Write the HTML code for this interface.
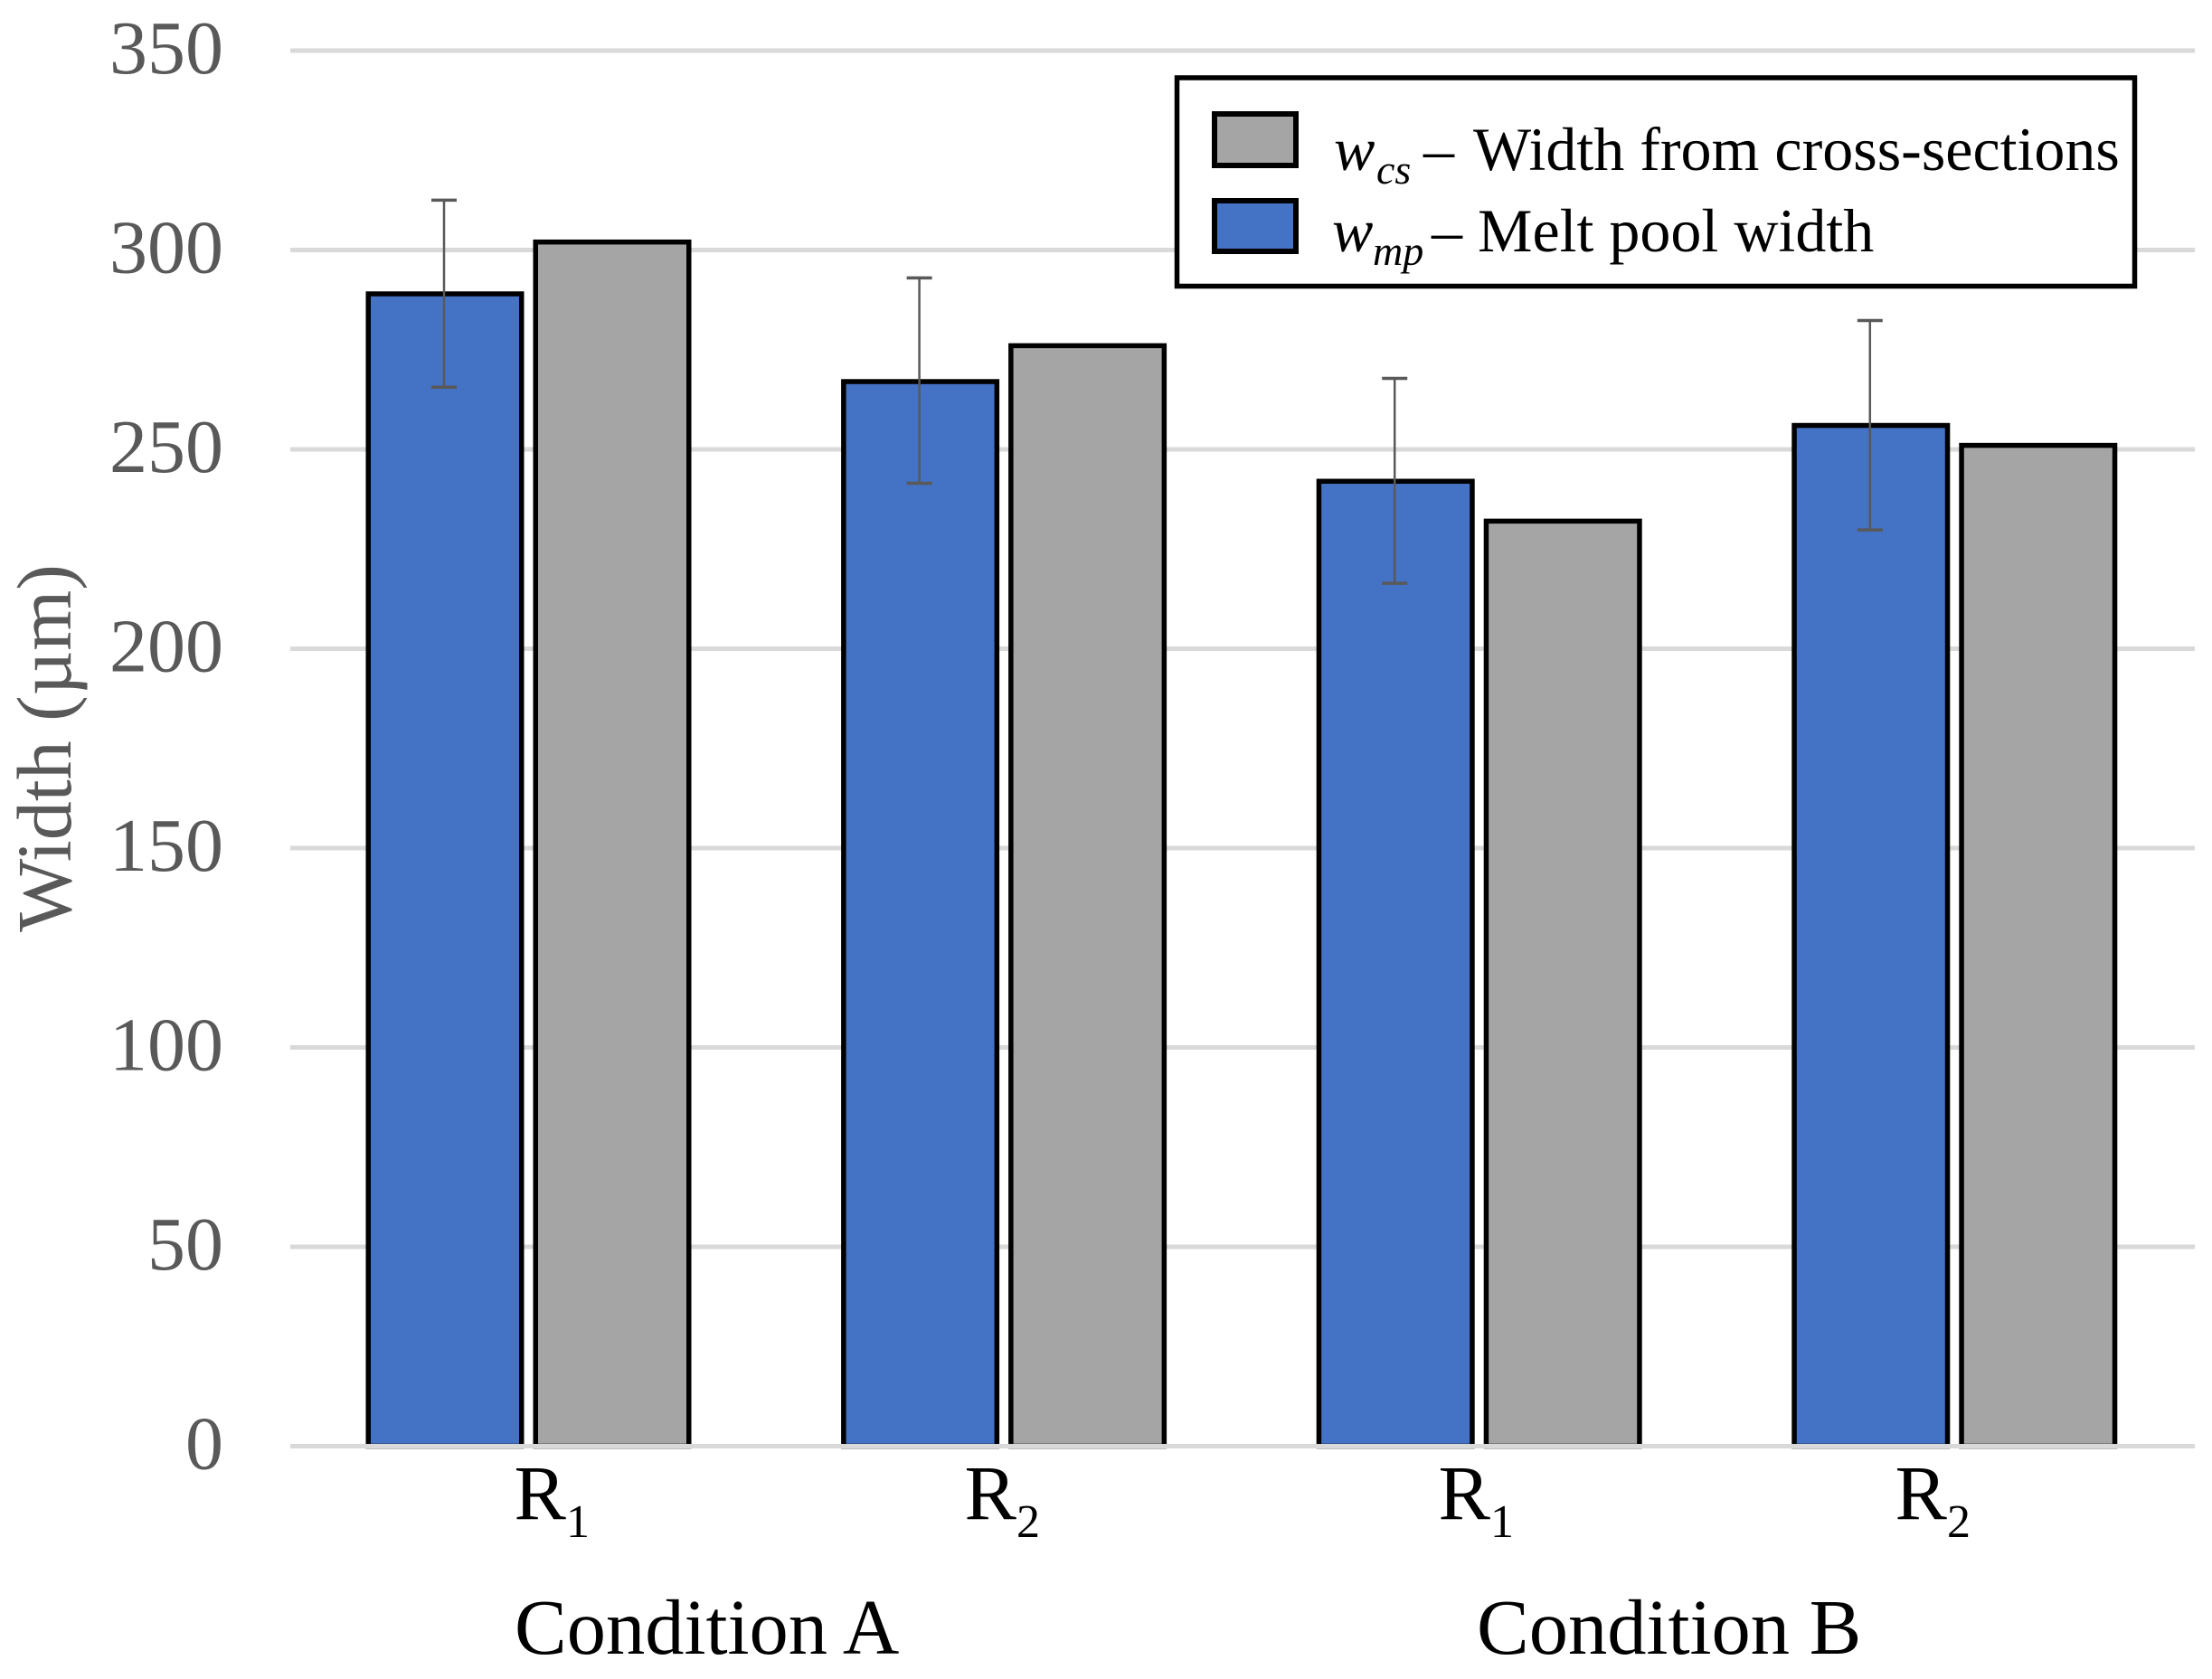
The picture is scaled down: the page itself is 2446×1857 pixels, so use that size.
<!DOCTYPE html>
<html lang="en">
<head>
<meta charset="utf-8">
<title>Width by condition</title>
<style>
html,body{margin:0;padding:0;background:#fff;width:2446px;height:1857px;overflow:hidden}
svg{display:block}
text{font-family:"Liberation Serif","Times New Roman",serif}
</style>
</head>
<body>
<svg id="chart" xmlns="http://www.w3.org/2000/svg" width="2446" height="1857" viewBox="0 0 2446 1857">
  <rect x="0" y="0" width="2446" height="1857" fill="#ffffff"/>
  <g id="grid"></g>
  <g id="ticks"></g>
  <text transform="translate(78 827.5) rotate(-90)" text-anchor="middle" font-size="86" fill="#595959">Width (µm)</text>
  <g id="bars"></g>
  <g id="errors"></g>
  <g id="axis"></g>

  <g fill="#000000">
    <text x="568.5" y="1680" font-size="86">R</text>
    <text x="626" y="1700" font-size="52">1</text>
    <text x="1066.5" y="1680" font-size="86">R</text>
    <text x="1124" y="1700" font-size="52">2</text>
    <text x="1590.5" y="1680" font-size="86">R</text>
    <text x="1648" y="1700" font-size="52">1</text>
    <text x="2095.5" y="1680" font-size="86">R</text>
    <text x="2153" y="1700" font-size="52">2</text>
  </g>
  <text x="569" y="1829" font-size="86.5" fill="#000000">Condition A</text>
  <text x="1633" y="1829" font-size="86.5" fill="#000000">Condition B</text>

  <g>
    <rect x="1301.5" y="86" width="1059" height="230.5" fill="#ffffff" stroke="#000000" stroke-width="5.5"/>
    <rect x="1343" y="126" width="90" height="57" fill="#a5a5a5" stroke="#000000" stroke-width="6"/>
    <rect x="1343" y="222" width="90" height="56" fill="#4472c4" stroke="#000000" stroke-width="6"/>
    <g fill="#000000">
      <text x="1475" y="188" font-size="68" font-style="italic">w</text>
      <text x="1522" y="203" font-size="46" font-style="italic">cs</text>
      <text x="1574" y="188" font-size="68">–</text>
      <text x="1629" y="188" font-size="68">Width from cross-sections</text>
    </g>
    <g fill="#000000">
      <text x="1473" y="278" font-size="68" font-style="italic">w</text>
      <text x="1518" y="293" font-size="46" font-style="italic">mp</text>
      <text x="1583" y="278" font-size="68">– Melt pool width</text>
    </g>
  </g>
</svg>
<script>
const categories = ["A-R1", "A-R2", "B-R1", "B-R2"];
const meltPoolWidth = [289, 267, 242, 256];
const crossSectionWidth = [302, 276, 232, 251];
const errorUpper = [312.5, 293, 267.8, 282.3];
const errorLower = [265.6, 241.5, 216.4, 229.8];
const yTickValues = [0, 50, 100, 150, 200, 250, 300, 350];

const SVG_NS = 'http://www.w3.org/2000/svg';
const yZero = 1599.5;
const yPerUnit = 4.41;
const groupStart = 404.5;
const groupStep = 525.6;
const barOuterWidth = 175;
const seriesOffset = 185;
const borderWidth = 5.5;

function yScale(v) { return yZero - v * yPerUnit; }
function barLeft(groupIndex, seriesIndex) { return groupStart + groupIndex * groupStep + seriesIndex * seriesOffset; }
function make(tag, attrs, parentId) {
  const el = document.createElementNS(SVG_NS, tag);
  Object.keys(attrs).forEach(k => el.setAttribute(k, attrs[k]));
  document.getElementById(parentId).appendChild(el);
  return el;
}

yTickValues.forEach(t => {
  if (t !== 0) {
    const line = make('rect', {x: 321, y: yScale(t) - 2.5, width: 2106, height: 5, fill: '#d9d9d9'}, 'grid');
    
    
  }
  const label = make('text', {x: 247, y: yScale(t) + 25, 'text-anchor': 'end', 'font-size': 84, fill: '#595959'}, 'ticks');
  label.textContent = String(t);
  
  
});

function drawBar(groupIndex, seriesIndex, value, fill, name) {
  const left = barLeft(groupIndex, seriesIndex);
  const bar = make('rect', {
    x: left + borderWidth / 2,
    y: yScale(value),
    width: barOuterWidth - borderWidth,
    height: yZero - yScale(value),
    fill: fill,
    stroke: '#000000',
    'stroke-width': borderWidth
  }, 'bars');
  
  
}

categories.forEach((c, i) => {
  drawBar(i, 0, meltPoolWidth[i], '#4472c4', 'bar-melt-pool');
  drawBar(i, 1, crossSectionWidth[i], '#a5a5a5', 'bar-cross-section');

  const cx = barLeft(i, 0) + barOuterWidth / 2 - 1;
  const stem = make('line', {x1: cx, x2: cx, y1: yScale(errorUpper[i]), y2: yScale(errorLower[i]), stroke: '#595959', 'stroke-width': 2.5}, 'errors');
  
  
  const capTop = make('line', {x1: cx - 14, x2: cx + 14, y1: yScale(errorUpper[i]), y2: yScale(errorUpper[i]), stroke: '#595959', 'stroke-width': 3.5}, 'errors');
  
  
  const capBottom = make('line', {x1: cx - 14, x2: cx + 14, y1: yScale(errorLower[i]), y2: yScale(errorLower[i]), stroke: '#595959', 'stroke-width': 3.5}, 'errors');
  
  
});

const axisLine = make('rect', {x: 321, y: yZero - 2.5, width: 2106, height: 5, fill: '#d9d9d9'}, 'axis');


</script>
</body>
</html>
